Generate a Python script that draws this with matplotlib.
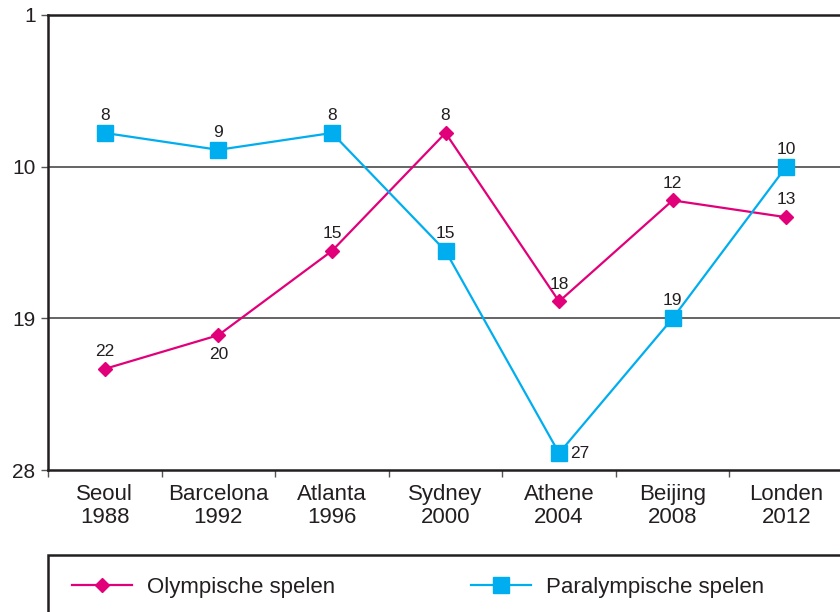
import matplotlib
matplotlib.use("Agg")
import matplotlib.pyplot as plt
from matplotlib.patches import Rectangle

plt.rcParams['font.family'] = ['Liberation Sans', 'DejaVu Sans']

# Data: ranking (plaats in medaillespiegel)
steden = ["Seoul\n1988", "Barcelona\n1992", "Atlanta\n1996", "Sydney\n2000",
          "Athene\n2004", "Beijing\n2008", "Londen\n2012"]
olympisch = [22, 20, 15, 8, 18, 12, 13]
paralympisch = [8, 9, 8, 15, 27, 19, 10]
y_ticks = [1, 10, 19, 28]

kleur_ol = '#e2007a'
kleur_para = '#00aeef'
tekst = '#231f20'

fig = plt.figure(figsize=(8.4, 6.12), dpi=100)
ax = fig.add_axes([48/840, 1 - 470/612, 795/840, 455/612])

x = list(range(len(steden)))
ax.plot(x, olympisch, color=kleur_ol, lw=1.6, marker='D', ms=7, zorder=3,
        label='Olympische spelen')
ax.plot(x, paralympisch, color=kleur_para, lw=1.6, marker='s', ms=11.5, zorder=4,
        label='Paralympische spelen')

# labels bij de punten
for i, v in enumerate(olympisch):
    dy = -14 if i == 1 else 12.5
    ax.annotate(str(v), (i, v), xytext=(0, dy), textcoords='offset points',
                ha='center', va='center', fontsize=12.5, color=tekst)
for i, v in enumerate(paralympisch):
    if i == 4:
        ax.annotate(str(v), (i, v), xytext=(8, 0), textcoords='offset points',
                    ha='left', va='center', fontsize=12.5, color=tekst)
    else:
        ax.annotate(str(v), (i, v), xytext=(0, 12.5), textcoords='offset points',
                    ha='center', va='center', fontsize=12.5, color=tekst)

ax.set_xlim(-0.5, 6.5)
ax.set_ylim(28, 1)
ax.set_yticks(y_ticks)
ax.set_xticks(x)
ax.set_xticklabels(steden, fontsize=16, color=tekst, linespacing=1.15)
ax.set_xticks([i - 0.5 for i in range(8)], minor=True)
ax.tick_params(axis='x', which='major', length=0, pad=10)
ax.tick_params(axis='x', which='minor', length=5, width=1, color='#555555', direction='out')
ax.tick_params(axis='y', length=5, width=1, color='#555555', labelsize=15,
               labelcolor=tekst, pad=4)

for yv in [10, 19]:
    ax.axhline(yv, color='#3a3a3a', lw=1.1, zorder=1)

for s in ['left', 'top', 'bottom']:
    ax.spines[s].set_color(tekst)
    ax.spines[s].set_linewidth(1.8)
ax.spines['right'].set_visible(False)

# legenda-kader (loopt door buiten de figuur)
fig.add_artist(Rectangle((48/840, -0.1), 1.0, 0.1 + 1 - 555/612,
                         transform=fig.transFigure, fill=False,
                         edgecolor=tekst, lw=1.8, clip_on=False))
fig.legend(loc='center left', bbox_to_anchor=(72/840, 1 - 587/612), ncol=2,
           frameon=False, fontsize=16, handlelength=2.7, handletextpad=0.68,
           columnspacing=6.1, borderpad=0, borderaxespad=0, labelcolor=tekst)

fig.savefig('out.png', dpi=100)
